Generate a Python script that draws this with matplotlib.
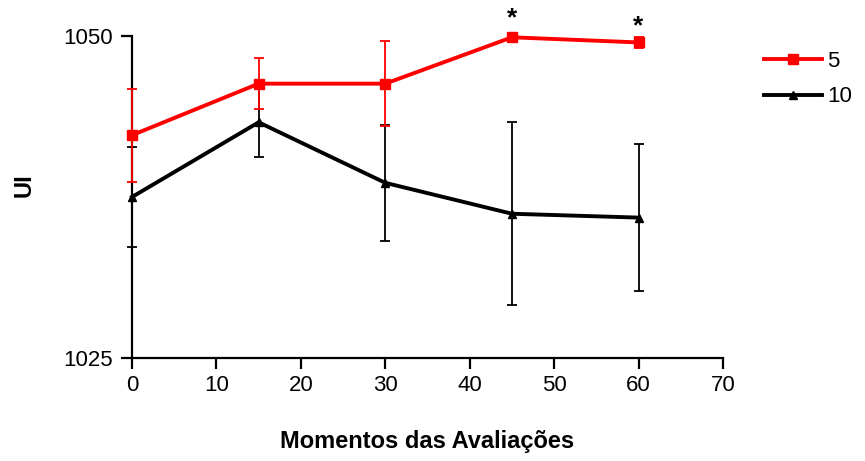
import matplotlib
matplotlib.use('Agg')
import matplotlib.pyplot as plt
from matplotlib.lines import Line2D

plt.rcParams['font.family'] = ['Liberation Sans', 'DejaVu Sans']

# Tempo de avaliacao (min)
moments = [0, 15, 30, 45, 60]

# Serie 5
ui_5 = [1042.3, 1046.3, 1046.3, 1049.9, 1049.5]
err_5 = [3.6, 2.0, 3.3, 0.05, 0.4]

# Serie 10
ui_10 = [1037.5, 1043.3, 1038.6, 1036.2, 1035.9]
err_10 = [3.9, 2.7, 4.5, 7.1, 5.7]

# asteriscos (significancia)
star_x = [45, 60]
star_y = [1051.35, 1050.75]

fig = plt.figure(figsize=(8.65, 4.61), dpi=100)
ax = fig.add_axes([132 / 865, 1 - 358 / 461, 591 / 865, 322 / 461])

ax.errorbar(moments, ui_10, yerr=err_10, color='black', lw=2.8,
            marker='^', markersize=6, elinewidth=1.3, capsize=3.5,
            capthick=1.3, clip_on=False, zorder=3)
ax.errorbar(moments, ui_5, yerr=err_5, color='#ff0000', lw=2.8,
            marker='s', markersize=6.5, elinewidth=1.3, capsize=3.5,
            capthick=1.3, clip_on=False, zorder=4)

for x, y in zip(star_x, star_y):
    ax.text(x, y, '*', ha='center', va='center', fontsize=19,
            fontweight='bold', clip_on=False)

ax.set_xlim(0, 70)
ax.set_ylim(1025, 1050)
ax.set_xticks(range(0, 71, 10))
ax.set_yticks([1025, 1050])

for s in ['top', 'right']:
    ax.spines[s].set_visible(False)
for s in ['left', 'bottom']:
    ax.spines[s].set_linewidth(1.6)

ax.tick_params(axis='both', length=8, width=1.6, labelsize=16)
ax.tick_params(axis='x', pad=4)
ax.tick_params(axis='y', pad=6)

ax.set_xlabel('Momentos das Avaliações', fontsize=17, fontweight='bold')
ax.xaxis.label.set_va('center')
ax.xaxis.set_label_coords(0.5, -0.258)
ax.set_ylabel('UI', fontsize=17, fontweight='bold')
ax.yaxis.label.set_va('center')
ax.yaxis.set_label_coords(-0.183, 0.537)

handles = [Line2D([], [], color='#ff0000', lw=2.8, marker='s', markersize=6.5),
           Line2D([], [], color='black', lw=2.8, marker='^', markersize=6)]
fig.legend(handles, ['5', '10'], loc='upper left',
           bbox_to_anchor=(764 / 865, 1 - 51 / 461), frameon=False,
           fontsize=16, handlelength=2.6, handletextpad=0.25,
           labelspacing=0.65, borderpad=0, borderaxespad=0)

plt.savefig('out.png', dpi=100)
